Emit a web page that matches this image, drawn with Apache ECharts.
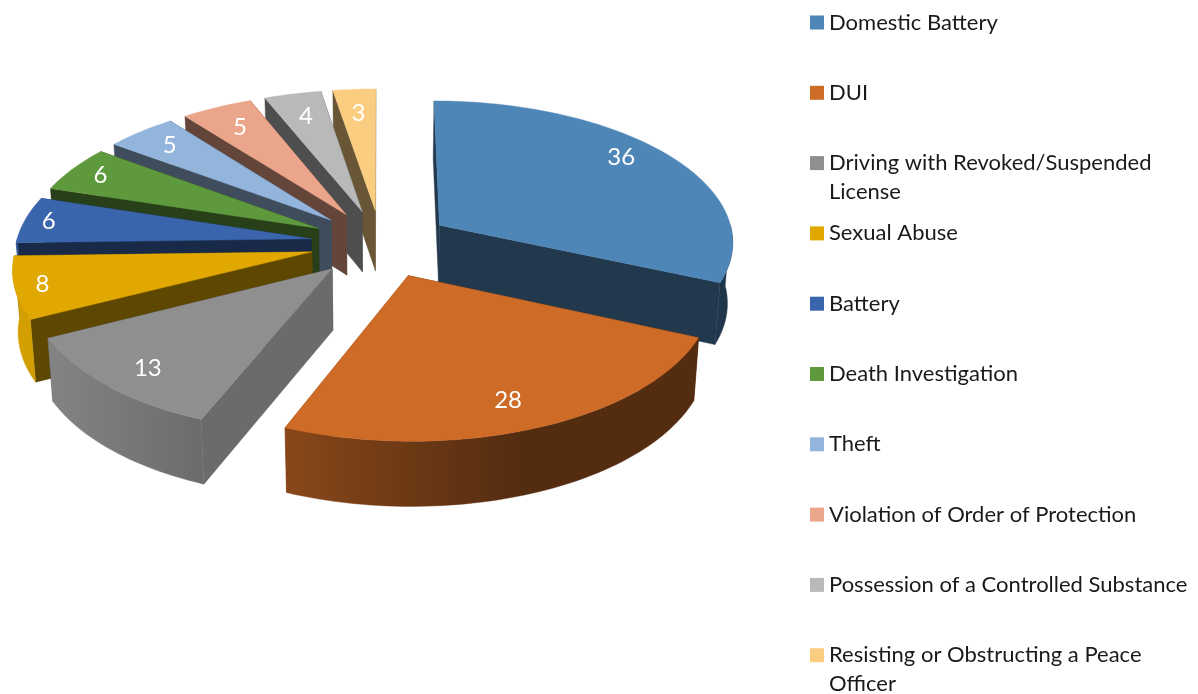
<!DOCTYPE html>
<html>
<head>
<meta charset="utf-8">
<style>html,body{margin:0;padding:0;background:#fff}#c{width:1198px;height:694px}</style>
<script src="https://cdn.jsdelivr.net/npm/echarts@6/dist/echarts.min.js"></script>
</head>
<body>
<div id="c"></div>
<script>
const categories = ['Domestic Battery','DUI','Driving with Revoked/Suspended License','Sexual Abuse','Battery','Death Investigation','Theft','Violation of Order of Protection','Possession of a Controlled Substance','Resisting or Obstructing a Peace Officer'];
const legendLines = ['Domestic Battery','DUI','Driving with Revoked/Suspended\nLicense','Sexual Abuse','Battery','Death Investigation','Theft','Violation of Order of Protection','Possession of a Controlled Substance','Resisting or Obstructing a Peace\nOfficer'];
const counts = [36,28,13,8,6,6,5,5,4,3];
const colors = ['#4e86b8','#cd6b27','#8f8f8f','#e0a800','#3a64ab','#5f993d','#93b5dc','#eba58a','#b9b9b9','#fbcd80'];

// View of the tilted, exploded pie
const CX = 381, CY = 243.5, R = 295, RY = 141, K = 0.105, EXPLODE = 0.24, DEPTH = 61, SHRINK = 0.985;
const total = counts.reduce((a, b) => a + b, 0);
const rad = d => d * Math.PI / 180;

function shade(hex, f) {
  const n = parseInt(hex.slice(1), 16);
  const c = s => Math.round(((n >> s) & 255) * f);
  return `rgb(${c(16)},${c(8)},${c(0)})`;
}
function topPt(u, v) {
  const w = 1 + K * v;
  return [CX + R * u / w, CY - RY * v / w];
}
function bottomPt(u, v) {
  const p = topPt(u, v);
  return [CX + (p[0] - CX) * SHRINK, p[1] + DEPTH / (1 + 0.5 * K * v)];
}
// radial walls are dark, except those turned towards the light at lower left
function edgeLight(deg) {
  return deg > 180 && deg < 235 ? 0.42 + 0.33 * Math.min(1, (235 - deg) / 25) : 0.42;
}
// labels sit further out on the left-hand slices, lifted on the right, lowered at the front
function labelRadius(mid) {
  return 0.79 + 0.13 * Math.pow(Math.max(0, -Math.sin(rad(mid))), 3);
}
function labelLift(mid) {
  return 20 * Math.pow(Math.max(0, Math.sin(rad(mid))), 3) - 10 * Math.pow(Math.max(0, -Math.cos(rad(mid))), 3);
}

const sliceInfo = [];
let acc = 0;
counts.forEach(c => {
  const a0 = acc / total * 360, a1 = (acc + c) / total * 360;
  sliceInfo.push({ a0, a1, mid: (a0 + a1) / 2 });
  acc += c;
});
const paintRank = sliceInfo.map((s, i) => [i, Math.cos(rad(s.mid))]).sort((a, b) => b[1] - a[1]).map(x => x[0]);

function renderSlice(i, api) {
  const s = sliceInfo[i], base = colors[i], value = api.value(0);
  const ox = EXPLODE * Math.sin(rad(s.mid)), oy = EXPLODE * Math.cos(rad(s.mid));
  const uv = (r, deg) => [ox + r * Math.sin(rad(deg)), oy + r * Math.cos(rad(deg))];
  const T = (r, d) => topPt(...uv(r, d)), B = (r, d) => bottomPt(...uv(r, d));
  const arcAngles = (from, to) => {
    const out = [], n = Math.max(2, Math.ceil((to - from) / 1.5));
    for (let j = 0; j <= n; j++) out.push(from + (to - from) * j / n);
    return out;
  };
  const children = [];
  const poly = (points, fill) => children.push({ type: 'polygon', shape: { points }, style: { fill, stroke: fill, lineWidth: 0.4 }, silent: true });

  // radial walls, farther one first
  [s.a0, s.a1].sort((a, b) => Math.cos(rad(b)) - Math.cos(rad(a))).forEach(d => {
    poly([T(0, d), T(1, d), B(1, d), B(0, d)], shade(base, edgeLight(d)));
  });
  // outer wall: only the part facing the viewer
  const f0 = Math.max(s.a0, 90), f1 = Math.min(s.a1, 270);
  if (f1 > f0) {
    const as = arcAngles(f0, f1);
    poly(as.map(d => T(1, d)).concat(as.slice().reverse().map(d => B(1, d))), {
      type: 'linear', x: 0, y: 0, x2: 520, y2: 0, global: true,
      colorStops: [{ offset: 0, color: shade(base, 0.97) }, { offset: 1, color: shade(base, 0.41) }]
    });
  }
  // top face
  poly([T(0, s.a0)].concat(arcAngles(s.a0, s.a1).map(d => T(1, d))), base);
  // label
  const p = T(labelRadius(s.mid), s.mid);
  children.push({
    type: 'text', x: p[0], y: p[1] - labelLift(s.mid), silent: true,
    style: { text: String(value), fill: '#fff', font: '24px Lato', align: 'center', verticalAlign: 'middle' }
  });
  return { type: 'group', children };
}

const series = categories.map((name, i) => ({
  type: 'custom', name, coordinateSystem: 'none', silent: true, z: 2 + paintRank.indexOf(i),
  itemStyle: { color: colors[i] }, data: [[counts[i]]],
  renderItem: (params, api) => renderSlice(i, api)
}));

const chart = echarts.init(document.getElementById('c'), null, { renderer: 'canvas' });
chart.setOption({
  animation: false,
  backgroundColor: '#fff',
  color: colors,
  legend: {
    orient: 'vertical', left: 810, top: -21, height: 800, padding: 0,
    itemWidth: 14, itemHeight: 14, itemGap: -16.7, icon: 'rect',
    selectedMode: false, data: categories,
    textStyle: { fontFamily: 'Lato', fontSize: 22, lineHeight: 29, color: '#1a1a1a' },
    formatter: name => {
      const t = legendLines[categories.indexOf(name)];
      return t.includes('\n') ? ' \n' + t : ' \n' + t + '\n ';
    }
  },
  series
});
</script>
</body>
</html>
